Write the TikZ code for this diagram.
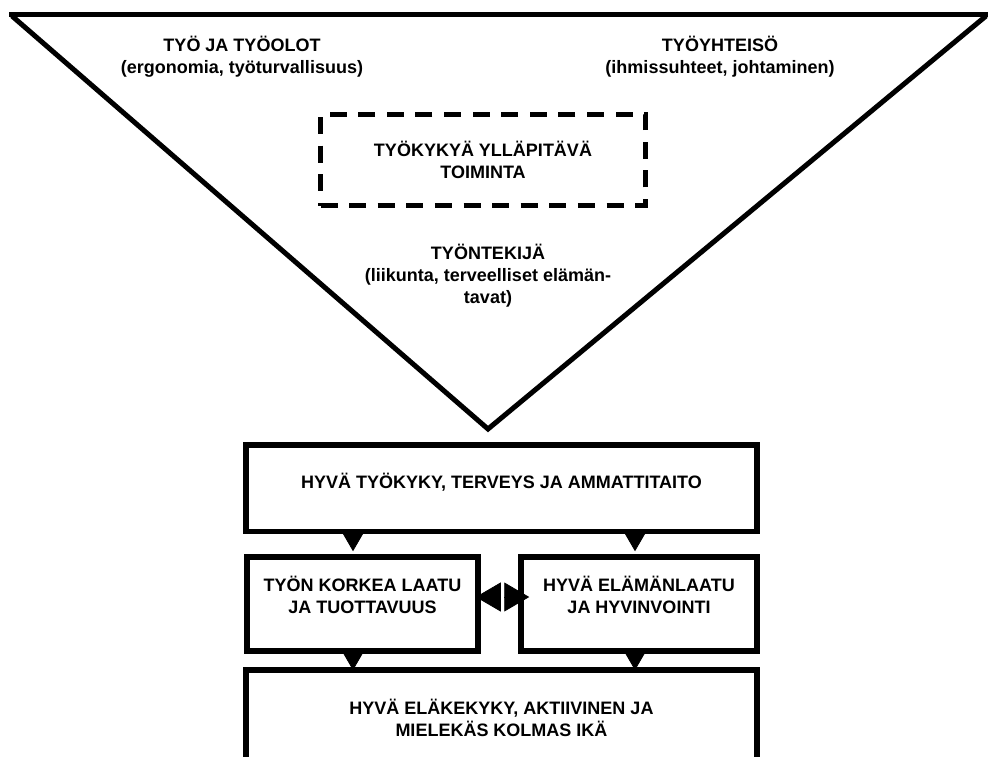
\documentclass[tikz,border=0pt]{standalone}
\usepackage{fontspec}
\setmainfont{Liberation Sans}
\usetikzlibrary{shapes,arrows.meta,calc}
\tikzstyle{plain} = [align=center, inner sep=0pt,
    font=\bfseries\fontsize{18}{22}\selectfont]
\tikzstyle{box} = [plain, rectangle, draw, line width=5.5pt]
\tikzstyle{dashbox} = [plain, rectangle, draw, line width=5pt,
    dash pattern=on 17pt off 11.6pt, minimum width=325pt, minimum height=91pt]
\tikzstyle{line} = [draw, fill, line width=0.8pt, -{Triangle[length=20pt, width=23pt]}]
\tikzstyle{side} = [draw, fill, line width=0.8pt, -{Triangle[length=25pt, width=29pt]}]

\begin{document}
\begin{tikzpicture}[x=1pt, y=-1pt, node distance=230pt]
        \useasboundingbox (0,0) rectangle (988,756);

        % Place nodes
        \node [plain] (tyo) at (242,57) {TYÖ JA TYÖOLOT\\(ergonomia, työturvallisuus)};
        \node [plain] (yhteiso) at (720,57) {TYÖYHTEISÖ\\(ihmissuhteet, johtaminen)};
        \node [dashbox] (yllapito) at (483,160) {TYÖKYKYÄ YLLÄPITÄVÄ\\TOIMINTA};
        \node [plain] (tekija) at (488,276) {TYÖNTEKIJÄ\\(liikunta, terveelliset elämän-\\tavat)};
        \node [box, minimum width=511pt, minimum height=86.5pt, text depth=14pt] (kyky) at (501.5,488)
            {HYVÄ TYÖKYKY, TERVEYS JA AMMATTITAITO};
        \node [box, minimum width=231pt, minimum height=94pt] (laatu) at (362.5,604)
            {TYÖN KORKEA LAATU\\JA TUOTTAVUUS\\[-4pt]\mbox{}};
        \node [box, minimum width=236pt, minimum height=94pt] (elama) at (639,604)
            {HYVÄ ELÄMÄNLAATU\\JA HYVINVOINTI\\[-4pt]\mbox{}};
        \node [box, below of=kyky, minimum width=511pt, minimum height=96pt] (ika)
            {HYVÄ ELÄKEKYKY, AKTIIVINEN JA\\MIELEKÄS KOLMAS IKÄ};

        % Funnel
        \coordinate (ylavasen) at (12,16);
        \coordinate (karki) at (488,429);
        \coordinate (ylaoikea) at (986,16);
        \draw [line width=5pt, line join=miter] (ylavasen) -- (karki) -- (ylaoikea);
        \draw [line width=5pt] (9,14.5) -- (995,14.5);

        % Draw edges
        \coordinate (d1) at ([xshift=-9.5pt]laatu.north);
        \coordinate (d2) at ([xshift=-4pt]elama.north);
        \coordinate (d3) at (d1 |- ika.north);
        \coordinate (d4) at (d2 |- ika.north);
        \path [line, shorten >=3pt] (kyky.south -| d1) -- (d1);
        \path [line, shorten >=3pt] (kyky.south -| d2) -- (d2);
        \path [line, shorten >=-3pt] (laatu.south -| d3) -- (d3);
        \path [line, shorten >=-3pt] (elama.south -| d4) -- (d4);
        \coordinate (mid) at ($(laatu.east)!0.5!(elama.west)+(2.5,-7)$);
        \coordinate (vasen) at ([xshift=-5pt]laatu.east |- mid);
        \coordinate (oikea) at ([xshift=11pt]elama.west |- mid);
        \path [side] ([xshift=-4pt]mid) -- (vasen);
        \path [side] ([xshift=4pt]mid) -- (oikea);
\end{tikzpicture}
\end{document}
